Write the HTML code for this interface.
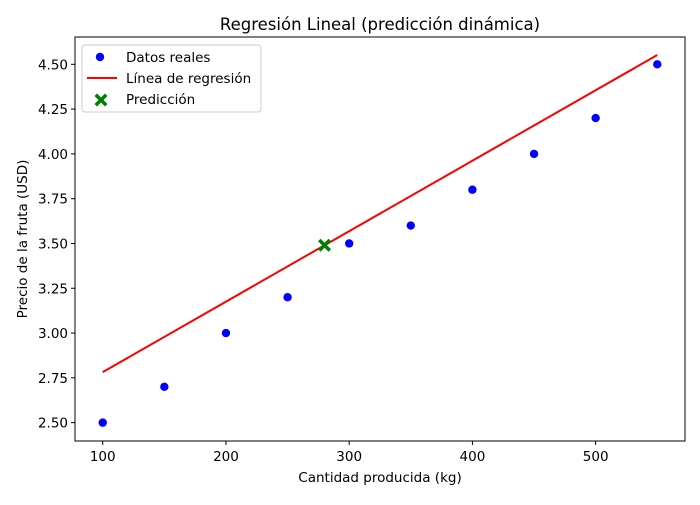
<!DOCTYPE html>
<html><head><meta charset="utf-8"><style>
body{margin:0;background:#fff;font-family:"Liberation Sans","DejaVu Sans",sans-serif}
text{font-family:"DejaVu Sans","Liberation Sans",sans-serif;fill:#000}
</style></head><body>
<svg id="chart" width="700" height="500" xmlns="http://www.w3.org/2000/svg">
<rect width="700" height="500" fill="#fff"/>
<g id="plot"></g>
</svg>
<script>
const xData=[100,150,200,250,300,350,400,450,500,550];
const yData=[2.5,2.7,3.0,3.2,3.5,3.6,3.8,4.0,4.2,4.5];
const lineX=[100,550];
const lineY=[2.782,4.552];
const predX=[280];
const predY=[3.49];
const xTicks=[100,200,300,400,500];
const yTicks=[2.5,2.75,3.0,3.25,3.5,3.75,4.0,4.25,4.5];
const yTickLabels=["2.50","2.75","3.00","3.25","3.50","3.75","4.00","4.25","4.50"];

const L=75,R=685,T=37,B=441;
const xMin=77.5,xMax=572.5,yMin=2.3975,yMax=4.6525;
const sx=v=>L+(v-xMin)/(xMax-xMin)*(R-L);
const sy=v=>B-(v-yMin)/(yMax-yMin)*(B-T);
const NS="http://www.w3.org/2000/svg";
const g=document.getElementById('plot');
function mk(tag,attrs,name,parent){const e=document.createElementNS(NS,tag);for(const k in attrs)e.setAttribute(k,attrs[k]);


(parent||g).appendChild(e);return e;}
function txt(s,attrs,name){const e=mk('text',attrs,name);e.textContent=s;return e;}

mk('line',{x1:sx(lineX[0]),y1:sy(lineY[0]),x2:sx(lineX[1]),y2:sy(lineY[1]),stroke:'#ff0000','stroke-width':2},'regression-line');
xData.forEach((x,i)=>{mk('circle',{cx:sx(x),cy:sy(yData[i]),r:4.2,fill:'#0000ff'},'data-point');});
function xMarker(cx,cy,s,name){
 return mk('path',{d:`M${cx-s},${cy-s+2.5} L${cx-s+2.5},${cy-s} L${cx},${cy-2.5} L${cx+s-2.5},${cy-s} L${cx+s},${cy-s+2.5} L${cx+2.5},${cy} L${cx+s},${cy+s-2.5} L${cx+s-2.5},${cy+s} L${cx},${cy+2.5} L${cx-s+2.5},${cy+s} L${cx-s},${cy+s-2.5} L${cx-2.5},${cy} Z`,fill:'#008000'},name);}
predX.forEach((x,i)=>xMarker(sx(x),sy(predY[i]),6.5,'prediction-marker'));

mk('rect',{x:L,y:T,width:R-L,height:B-T,fill:'none',stroke:'#000','stroke-width':1},'plot-frame');
xTicks.forEach(v=>{const x=sx(v);mk('line',{x1:x,y1:B,x2:x,y2:B+4,stroke:'#000'},'x-tick');
 txt(String(v),{x:x,y:B+20,'font-size':13.5,'text-anchor':'middle'},'x-tick-label');});
yTicks.forEach((v,i)=>{const y=sy(v);mk('line',{x1:L-4,y1:y,x2:L,y2:y,stroke:'#000'},'y-tick');
 txt(yTickLabels[i],{x:L-7,y:y+5,'font-size':13.5,'text-anchor':'end'},'y-tick-label');});
txt('Regresión Lineal (predicción dinámica)',{x:(L+R)/2,y:30,'font-size':16.5,'text-anchor':'middle'},'chart-title');
txt('Cantidad producida (kg)',{x:(L+R)/2,y:482,'font-size':13.5,'text-anchor':'middle'},'x-axis-title');
txt('Precio de la fruta (USD)',{x:0,y:0,'font-size':13.5,'text-anchor':'middle',transform:`translate(27,${(T+B)/2}) rotate(-90)`},'y-axis-title');

mk('rect',{x:82,y:45,width:179,height:67,rx:3,fill:'#fff','fill-opacity':0.8,stroke:'#ccc'},'legend-box');
mk('circle',{cx:100,cy:57,r:4.2,fill:'#0000ff'},'legend-marker-data');
txt('Datos reales',{x:126,y:62,'font-size':13.5},'legend-label-data');
mk('line',{x1:87,y1:78,x2:117,y2:78,stroke:'#ff0000','stroke-width':2},'legend-marker-line');
txt('Línea de regresión',{x:126,y:83,'font-size':13.5},'legend-label-line');
xMarker(101,100,6.5,'legend-marker-prediction');
txt('Predicción',{x:126,y:104,'font-size':13.5},'legend-label-prediction');
</script>
</body></html>
